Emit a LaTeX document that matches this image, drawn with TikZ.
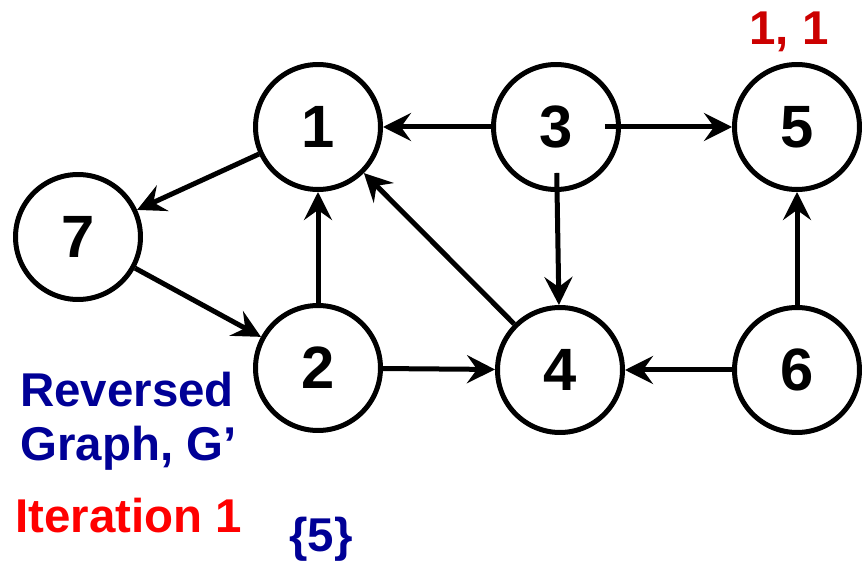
\documentclass[tikz,border=0pt]{standalone}
\usepackage{fontspec}
\setmainfont{Liberation Sans}
\usetikzlibrary{arrows.meta}
\definecolor{revblue}{RGB}{0,0,150}
\definecolor{iterred}{RGB}{255,0,0}
\definecolor{tagred}{RGB}{204,0,0}
\tikzset{
  vert/.style  = {circle, draw=black, line width=0.1cm, minimum size=2.5cm,
                  inner sep=0pt, font=\fontsize{34}{40}\selectfont\bfseries},
  arrow/.style = {-{Stealth[length=0.56cm, width=0.56cm, inset=0.2cm]},
                  line width=0.1cm},
  note/.style  = {font=\fontsize{27}{30}\selectfont\bfseries, inner sep=0pt},
}

\begin{document}
\begin{tikzpicture}[x=0.02cm, y=-0.02cm]
  \useasboundingbox (0,0) rectangle (863,564);
  % vertices
  \node[vert] (n1) at (318,127) {1};
  \node[vert] (n3) at (556,127) {3};
  \node[vert] (n5) at (797,127) {5};
  \node[vert] (n7) at (78,237)  {7};
  \node[vert] (n2) at (318,368) {2};
  \node[vert] (n4) at (560,370) {4};
  \node[vert] (n6) at (797,370) {6};

  % edges of G'
  \draw[arrow] (n1) -- (n7);
  \draw[arrow] (n3) -- (n1);
  \draw[arrow, shorten <=-0.32cm] (n3) -- (n5);
  \draw[arrow, shorten <=-0.38cm] (n3) -- (n4);
  \draw[arrow] (n2) -- (n1);
  \draw[arrow] (n4) -- (n1);
  \draw[arrow] (n7) -- (n2);
  \draw[arrow] (n2) -- (n4);
  \draw[arrow] (n6) -- (n4);
  \draw[arrow] (n6) -- (n5);

  % labels
  \node[note, color=tagred, anchor=base] (tag5) at (789,45) {1, 1};
  \node[note, color=revblue, anchor=base west] (title1) at (20,407) {Reversed};
  \node[note, color=revblue, anchor=base west] (title2) at (20,460) {Graph, G’};
  \node[note, color=iterred, anchor=base west] (iter) at (15,533) {Iteration 1};
  \node[note, color=revblue, anchor=base] (found) at (321,551) {\{5\}};
\end{tikzpicture}
\end{document}
